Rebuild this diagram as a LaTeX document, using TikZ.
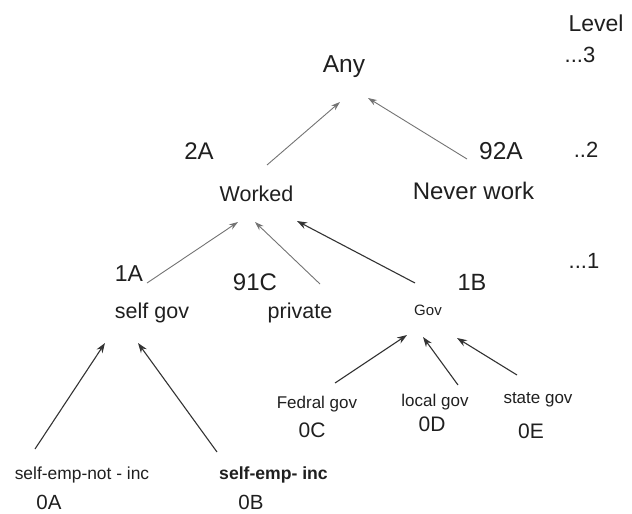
\documentclass[tikz,border=0pt]{standalone}
\usepackage{fontspec}
\setmainfont{Liberation Sans}
\usetikzlibrary{arrows.meta}
\begin{document}
\begin{tikzpicture}[x=1pt,y=-1pt,
  txt/.style={inner sep=0pt,text=black!88},
  fs/.style={font=\fontsize{#1}{#1}\selectfont},
  lite/.style={-{Stealth[length=9pt,width=6pt]},draw=black!55,line width=0.9pt},
  dark/.style={-{Stealth[length=10pt,width=7pt]},draw=black!80,line width=1.1pt}]
\useasboundingbox (0,0) rectangle (632,514);
% level marks
\node[txt,fs=23] (level) at (596,23) {Level};
\node[txt,fs=22] (l3) at (580,55) {...3};
\node[txt,fs=22] (l2) at (586,150) {..2};
\node[txt,fs=22] (l1) at (584,261) {...1};
% nodes
\node[txt,fs=24.5] (any) at (344,67) {Any};
\node[txt,fs=24] (c2a) at (199,151) {2A};
\node[txt,fs=21.5] (worked) at (256.5,193.5) {Worked};
\node[txt,fs=24.5] (c92a) at (501,151) {92A};
\node[txt,fs=24] (never) at (473.5,191) {Never work};
\node[txt,fs=23] (c1a) at (129,274) {1A};
\node[txt,fs=21.5] (selfgov) at (152,313) {self gov};
\node[txt,fs=24] (c91c) at (255,282) {91C};
\node[txt,fs=21.5] (private) at (300,313) {private};
\node[txt,fs=23.5] (c1b) at (472,282) {1B};
\node[txt,fs=15] (gov) at (428,310) {Gov};
\node[txt,fs=17] (fedral) at (317,404) {Fedral gov};
\node[txt,fs=21] (c0c) at (312,430) {0C};
\node[txt,fs=17] (local) at (435,402) {local gov};
\node[txt,fs=21] (c0d) at (432,424) {0D};
\node[txt,fs=17] (state) at (538,400) {state gov};
\node[txt,fs=21] (c0e) at (531,431) {0E};
\node[txt,fs=17.4] (senotinc) at (82,475) {self-emp-not - inc};
\node[txt,fs=20.5] (c0a) at (49,502) {0A};
\node[txt,font=\fontsize{17.6}{18}\selectfont\bfseries] (seinc) at (273.5,475) {self-emp- inc};
\node[txt,fs=20.5] (c0b) at (251,502) {0B};
% connectors
\draw[lite] ([shift={(10.5,-28.5)}]worked.center) -- ([shift={(-4,35)}]any.center);
\draw[lite] ([shift={(-34,8)}]c92a.center) -- ([shift={(24,31)}]any.center);
\draw[lite] ([shift={(-5,-30)}]selfgov.center) -- ([shift={(-18.5,28.5)}]worked.center);
\draw[lite] ([shift={(20,-29)}]private.center) -- ([shift={(-1.5,28.5)}]worked.center);
\draw[dark] ([shift={(-13,-27)}]gov.center) -- ([shift={(40.5,27.5)}]worked.center);
\draw[dark] ([shift={(-47,-26)}]senotinc.center) -- ([shift={(-47,30)}]selfgov.center);
\draw[dark] ([shift={(-56.5,-23)}]seinc.center) -- ([shift={(-14,30)}]selfgov.center);
\draw[dark] ([shift={(18,-21)}]fedral.center) -- ([shift={(-21,25)}]gov.center);
\draw[dark] ([shift={(23,-17)}]local.center) -- ([shift={(-5,27)}]gov.center);
\draw[dark] ([shift={(-21,-25)}]state.center) -- ([shift={(29,28)}]gov.center);
\end{tikzpicture}
\end{document}
